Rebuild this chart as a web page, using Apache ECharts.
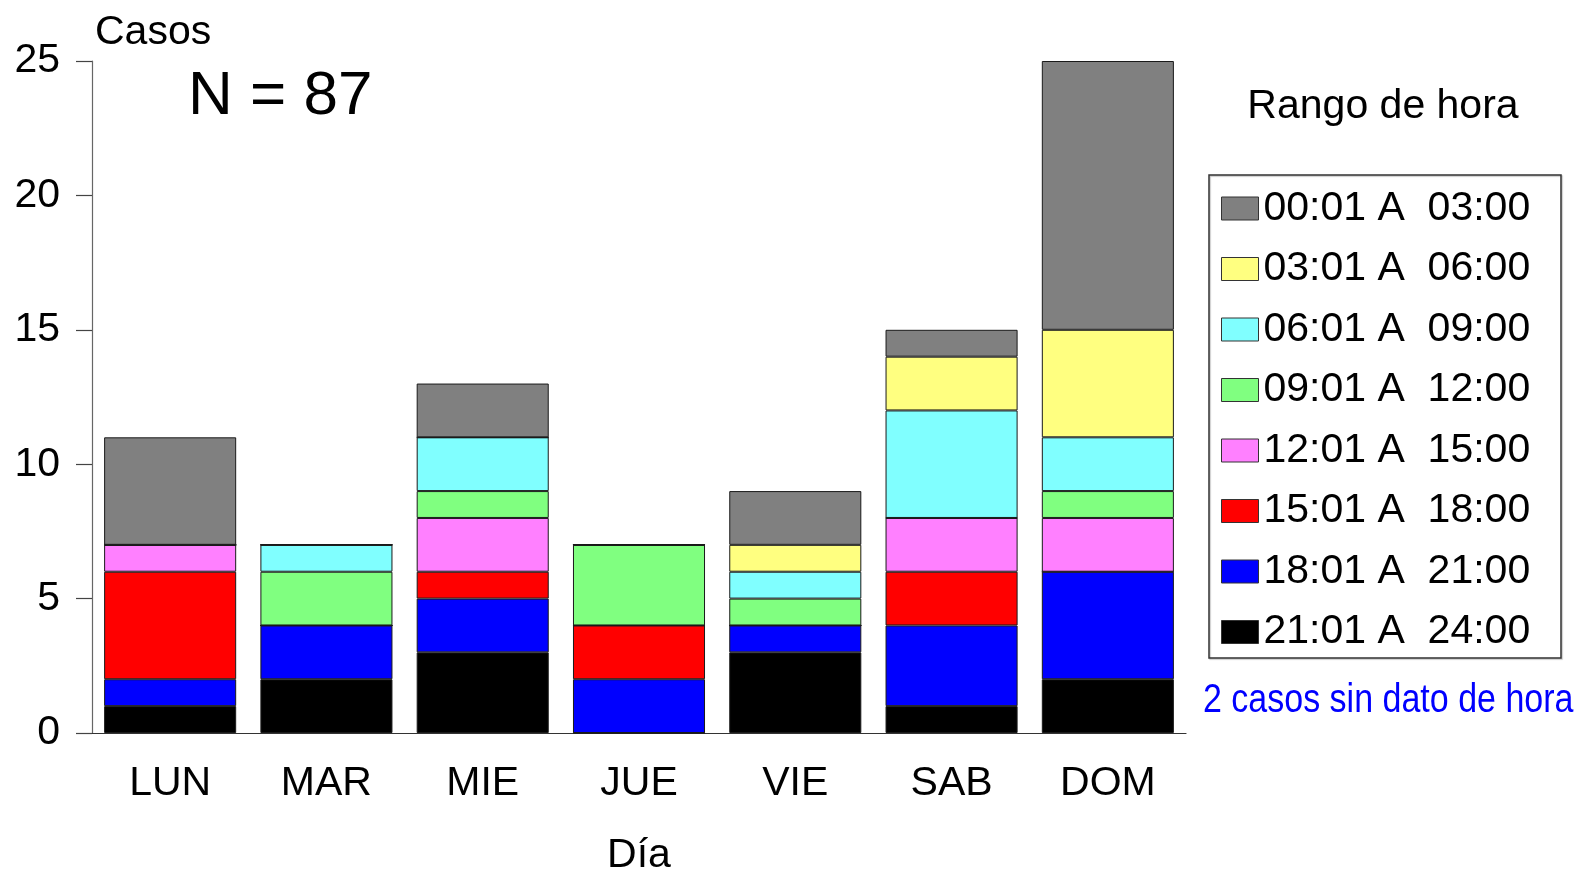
<!DOCTYPE html>
<html>
<head>
<meta charset="utf-8">
<script src="https://cdn.jsdelivr.net/npm/echarts@6/dist/echarts.min.js"></script>
<style>
html,body{margin:0;padding:0;background:#fff;}
#chart{width:1583px;height:873px;}
</style>
</head>
<body>
<div id="chart"></div>
<script>
// ---- data ----
const days = ['LUN', 'MAR', 'MIE', 'JUE', 'VIE', 'SAB', 'DOM'];
const seriesNames = ['21:01 A  24:00', '18:01 A  21:00', '15:01 A  18:00', '12:01 A  15:00',
                     '09:01 A  12:00', '06:01 A  09:00', '03:01 A  06:00', '00:01 A  03:00'];
const seriesColors = ['#000000', '#0000ff', '#ff0000', '#ff80ff', '#80ff80', '#80ffff', '#ffff80', '#808080'];
const h2124 = [1, 2, 3, 0, 3, 1, 2];
const h1821 = [1, 2, 2, 2, 1, 3, 4];
const h1518 = [4, 0, 1, 2, 0, 2, 0];
const h1215 = [1, 0, 2, 0, 0, 2, 2];
const h0912 = [0, 2, 1, 3, 1, 0, 1];
const h0609 = [0, 1, 2, 0, 1, 4, 2];
const h0306 = [0, 0, 0, 0, 1, 2, 4];
const h0003 = [4, 0, 2, 0, 2, 1, 10];
const seriesValues = [h2124, h1821, h1518, h1215, h0912, h0609, h0306, h0003];
const yTicks = [0, 5, 10, 15, 20, 25];
const totalN = 87;

const FONT = '"Liberation Sans", Arial, Helvetica, sans-serif';
const chart = echarts.init(document.getElementById('chart'), null, {renderer: 'canvas'});

const series = seriesNames.map((name, i) => ({
  name: name,
  type: 'bar',
  stack: 'total',
  barCategoryGap: '15.5%',
  data: seriesValues[i],
  itemStyle: {color: seriesColors[i], borderColor: '#1a1a1a', borderWidth: 1},
  emphasis: {disabled: true}
}));

chart.setOption({
  animation: false,
  textStyle: {fontFamily: FONT},
  grid: {left: 92, right: 397, top: 61, bottom: 140, containLabel: false, outerBoundsMode: 'none'},
  xAxis: {
    type: 'category',
    data: days,
    name: 'Día',
    nameLocation: 'middle',
    nameGap: 102,
    nameTextStyle: {fontSize: 41, color: '#000', fontFamily: FONT},
    axisLine: {lineStyle: {color: '#333', width: 1.2}},
    axisTick: {alignWithLabel: true, length: 16, lineStyle: {color: '#555', width: 1.2}},
    axisLabel: {fontSize: 41, color: '#000', margin: 30, fontFamily: FONT}
  },
  yAxis: {
    type: 'value',
    min: yTicks[0],
    max: yTicks[yTicks.length - 1],
    interval: yTicks[1] - yTicks[0],
    axisLine: {show: true, lineStyle: {color: '#666', width: 1.2}},
    axisTick: {show: true, length: 16, lineStyle: {color: '#444', width: 1.2}},
    axisLabel: {fontSize: 41, color: '#000', margin: 32, fontFamily: FONT},
    splitLine: {show: false}
  },
  legend: {
    orient: 'vertical',
    left: 1216,
    top: 183,
    itemWidth: 37,
    itemHeight: 23,
    itemGap: 19.5,
    icon: 'rect',
    data: seriesNames.slice().reverse(),
    textStyle: {fontSize: 41, color: '#000', lineHeight: 40, fontFamily: FONT},
    itemStyle: {borderColor: '#333', borderWidth: 1},
    selectedMode: false
  },
  series: series,
  graphic: [
    {type: 'text', left: 95, top: 12, style: {text: 'Casos', fontSize: 41, fill: '#000', fontFamily: FONT}},
    {type: 'text', left: 188, top: 66, style: {text: 'N = ' + totalN, fontSize: 62, fill: '#000', fontFamily: FONT}},
    {type: 'text', x: 1383, y: 86, style: {text: 'Rango de hora', fontSize: 41, fill: '#000', fontFamily: FONT, align: 'center'}},
    {type: 'rect', shape: {x: 1209, y: 175, width: 352, height: 483},
     style: {fill: 'none', stroke: '#333', lineWidth: 1.5, shadowColor: 'rgba(0,0,0,0.25)', shadowOffsetX: 1, shadowOffsetY: 1, shadowBlur: 1}},
    {type: 'text', x: 1203, y: 681, scaleX: 0.85, style: {text: '2 casos sin dato de hora', fontSize: 40, fill: '#0000ff', fontFamily: FONT}}
  ]
});
</script>
</body>
</html>
